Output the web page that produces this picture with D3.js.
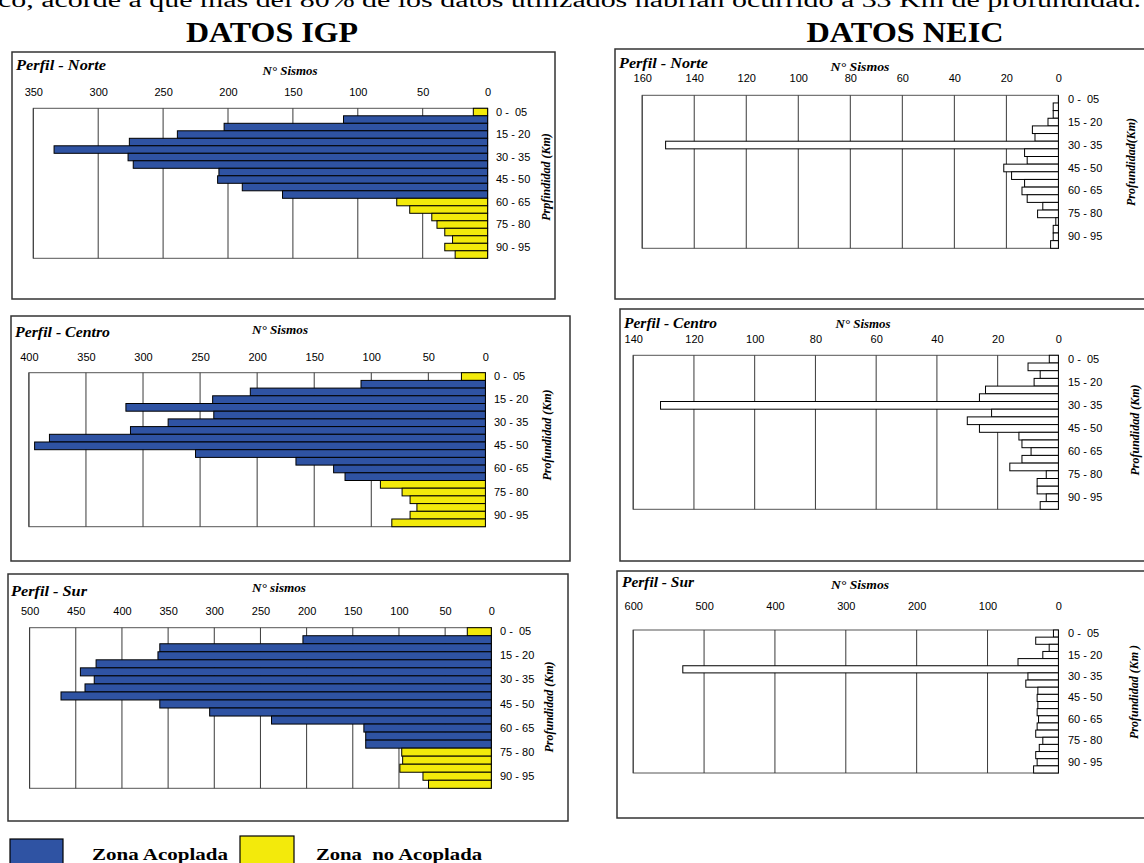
<!DOCTYPE html>
<html>
<head>
<meta charset="utf-8">
<script src="https://cdn.jsdelivr.net/npm/d3@7"></script>
<style>
  body { margin: 0; background: #fff; }
  svg { display: block; }
  .tick text { white-space: pre; }
</style>
</head>
<body>
<div id="chart"></div>
<script>
// depth bins (km), labels shown every third bin
const depthBins = ["0 -  05", "05 - 10", "10 - 15", "15 - 20", "20 - 25", "25 - 30", "30 - 35",
  "35 - 40", "40 - 45", "45 - 50", "50 - 55", "55 - 60", "60 - 65", "65 - 70", "70 - 75",
  "75 - 80", "80 - 85", "85 - 90", "90 - 95", "95 - 100"];
const depthTicks = ["0 -  05", "15 - 20", "30 - 35", "45 - 50", "60 - 65", "75 - 80", "90 - 95"];

// IGP counts + zone (A = acoplada, N = no acoplada)
const igpNorte  = [11, 111, 203, 239, 276, 334, 277, 273, 207, 208, 189, 158, 70, 60, 43, 39, 33, 27, 33, 25];
const igpNorteZona  = ["N","A","A","A","A","A","A","A","A","A","A","A","N","N","N","N","N","N","N","N"];
const igpCentro = [21, 109, 206, 239, 315, 238, 278, 311, 382, 395, 254, 166, 133, 123, 92, 73, 66, 60, 66, 82];
const igpCentroZona = ["N","A","A","A","A","A","A","A","A","A","A","A","A","A","N","N","N","N","N","N"];
const igpSur    = [26, 204, 359, 361, 428, 445, 430, 440, 466, 359, 305, 238, 138, 136, 136, 97, 96, 99, 74, 68];
const igpSurZona    = ["N","A","A","A","A","A","A","A","A","A","A","A","A","A","A","N","N","N","N","N"];

// NEIC counts
const neicNorte  = [0, 2, 2, 4, 10, 9, 151, 13, 12, 21, 18, 13, 14, 12, 6, 8, 1, 2, 2, 3];
const neicCentro = [3, 10, 6, 8, 24, 26, 131, 22, 30, 26, 13, 12, 9, 12, 16, 4, 7, 7, 4, 6];
const neicSur    = [7, 32, 13, 22, 57, 530, 43, 46, 29, 30, 29, 30, 28, 30, 32, 22, 27, 32, 30, 35];

// x tick labels
const ticksIgpNorte   = [350, 300, 250, 200, 150, 100, 50, 0];
const ticksIgpCentro  = [400, 350, 300, 250, 200, 150, 100, 50, 0];
const ticksIgpSur     = [500, 450, 400, 350, 300, 250, 200, 150, 100, 50, 0];
const ticksNeicNorte  = [160, 140, 120, 100, 80, 60, 40, 20, 0];
const ticksNeicCentro = [140, 120, 100, 80, 60, 40, 20, 0];
const ticksNeicSur    = [600, 500, 400, 300, 200, 100, 0];

const zoneColor = { A: "#2f53a3", N: "#f3ea0b" };

const W = 1144, H = 863;
const svg = d3.select("#chart").append("svg").attr("width", W).attr("height", H);

// clipped sentence from the page above the figure
svg.append("text")
  .attr("x", -2).attr("y", 7)
  .attr("textLength", 1143).attr("lengthAdjust", "spacingAndGlyphs")
  .style("font", "20px 'Liberation Serif'")
  .text("co, acorde a que más del 80% de los datos utilizados habrían ocurrido a 33 Km de profundidad.");

svg.append("text").attr("x", 272).attr("y", 42).attr("text-anchor", "middle")
  .attr("textLength", 172).attr("lengthAdjust", "spacingAndGlyphs")
  .style("font", "bold 30px 'Liberation Serif'").text("DATOS IGP");
svg.append("text").attr("x", 905).attr("y", 42).attr("text-anchor", "middle")
  .attr("textLength", 197).attr("lengthAdjust", "spacingAndGlyphs")
  .style("font", "bold 30px 'Liberation Serif'").text("DATOS NEIC");

const panels = [
  { values: igpNorte, zones: igpNorteZona, ticks: ticksIgpNorte,
    title: "Perfil - Norte", titleW: 90, xTitle: "N° Sismos", xTitleW: 55, yTitle: "Prpfindidad (Km)",
    frame: [12, 52, 555, 299], plot: [33.3, 108.3, 487.6, 258.3],
    titlePos: [16, 70], xTitlePos: [290, 75], tickY: 96, catX: 496, yTitlePos: [546, 177] },
  { values: igpCentro, zones: igpCentroZona, ticks: ticksIgpCentro,
    title: "Perfil - Centro", titleW: 95, xTitle: "N° Sismos", xTitleW: 56, yTitle: "Profundidad (Km)",
    frame: [11, 316, 570, 561], plot: [28.9, 372.7, 485.4, 526.7],
    titlePos: [15, 337], xTitlePos: [280, 334], tickY: 361, catX: 494, yTitlePos: [547, 435] },
  { values: igpSur, zones: igpSurZona, ticks: ticksIgpSur,
    title: "Perfil - Sur", titleW: 76, xTitle: "N° sismos", xTitleW: 54, yTitle: "Profundidad (Km)",
    frame: [8, 574, 568, 821], plot: [29.6, 627.7, 491.3, 788.3],
    titlePos: [11, 596], xTitlePos: [279, 592], tickY: 615, catX: 500, yTitlePos: [549, 707] },
  { values: neicNorte, zones: null, ticks: ticksNeicNorte,
    title: "Perfil - Norte", titleW: 89, xTitle: "N° Sismos", xTitleW: 59, yTitle: "Profundidad(Km)",
    frame: [615, 49, 1150, 299], plot: [642.2, 95.3, 1058.4, 248.3],
    titlePos: [619, 68], xTitlePos: [860, 71], tickY: 82, catX: 1068, yTitlePos: [1131, 162] },
  { values: neicCentro, zones: null, ticks: ticksNeicCentro,
    title: "Perfil - Centro", titleW: 93, xTitle: "N° Sismos", xTitleW: 55, yTitle: "Profundidad (Km)",
    frame: [620, 309, 1150, 561], plot: [633.2, 355.3, 1058.4, 509.3],
    titlePos: [624, 328], xTitlePos: [863, 328], tickY: 343, catX: 1068, yTitlePos: [1135, 430] },
  { values: neicSur, zones: null, ticks: ticksNeicSur,
    title: "Perfil - Sur", titleW: 72, xTitle: "N° Sismos", xTitleW: 58, yTitle: "Profundidad (Km )",
    frame: [617, 571, 1150, 818], plot: [633.2, 630, 1058.4, 773],
    titlePos: [622, 587], xTitlePos: [860, 589], tickY: 610, catX: 1068, yTitlePos: [1134, 692] }
];

panels.forEach(drawPanel);

function drawPanel(p) {
  const g = svg.append("g");
  const [fx0, fy0, fx1, fy1] = p.frame;
  const [px0, py0, px1, py1] = p.plot;

  g.append("rect")
    .attr("x", fx0).attr("y", fy0).attr("width", fx1 - fx0).attr("height", fy1 - fy0)
    .attr("fill", "#fff").attr("stroke", "#333").attr("stroke-width", 1.5);

  const x = d3.scaleLinear().domain([d3.max(p.ticks), 0]).range([px0, px1]);
  const y = d3.scaleBand().domain(depthBins).range([py0, py1]).padding(0);

  // plot border + vertical gridlines
  g.append("rect")
    .attr("x", px0).attr("y", py0).attr("width", px1 - px0).attr("height", py1 - py0)
    .attr("fill", "none").attr("stroke", "#555").attr("stroke-width", 1);
  g.selectAll("line.grid")
    .data(p.ticks)
    .enter().append("line")
    .attr("class", "grid")
    .attr("x1", d => x(d)).attr("x2", d => x(d))
    .attr("y1", py0).attr("y2", py1)
    .attr("stroke", d => d === 0 ? "#000" : "#3a3a3a").attr("stroke-width", 1);

  // bars
  const rows = depthBins.map((bin, i) => ({ bin, v: p.values[i], zone: p.zones ? p.zones[i] : null }))
    .filter(d => d.v > 0);
  g.selectAll("rect.bar")
    .data(rows)
    .enter().append("rect")
    .attr("class", "bar")
    .attr("x", d => x(d.v))
    .attr("y", d => y(d.bin))
    .attr("width", d => x(0) - x(d.v))
    .attr("height", y.bandwidth())
    .attr("fill", d => d.zone ? zoneColor[d.zone] : "#fff")
    .attr("stroke", "#000").attr("stroke-width", 1);

  // top value axis
  const xAxis = g.append("g")
    .attr("transform", `translate(0,${p.tickY})`)
    .call(d3.axisTop(x).tickValues(p.ticks).tickSize(0).tickPadding(0).tickFormat(d3.format("d")));
  xAxis.select(".domain").remove();
  xAxis.selectAll("text").style("font", "11px 'Liberation Sans'").attr("fill", "#000");

  // right depth axis
  const yAxis = g.append("g")
    .attr("transform", `translate(${p.catX},0)`)
    .call(d3.axisRight(y).tickValues(depthTicks).tickSize(0).tickPadding(0));
  yAxis.select(".domain").remove();
  yAxis.selectAll("text").style("font", "11px 'Liberation Sans'").attr("fill", "#000");

  g.append("text")
    .attr("x", p.titlePos[0]).attr("y", p.titlePos[1])
    .attr("textLength", p.titleW).attr("lengthAdjust", "spacingAndGlyphs")
    .style("font", "bold italic 14px 'Liberation Serif'")
    .text(p.title);

  g.append("text")
    .attr("x", p.xTitlePos[0]).attr("y", p.xTitlePos[1]).attr("text-anchor", "middle")
    .attr("textLength", p.xTitleW).attr("lengthAdjust", "spacingAndGlyphs")
    .style("font", "bold italic 12px 'Liberation Serif'")
    .text(p.xTitle);

  g.append("text")
    .attr("transform", `translate(${p.yTitlePos[0]},${p.yTitlePos[1]}) rotate(-90)`)
    .attr("text-anchor", "middle").attr("dy", "0.35em")
    .style("font", "bold italic 12px 'Liberation Serif'")
    .style("white-space", "pre")
    .text(p.yTitle);
}

// legend
const legendItems = [
  { zone: "A", label: "Zona Acoplada", box: [10, 839, 53], textX: 92, textW: 136 },
  { zone: "N", label: "Zona  no Acoplada", box: [240, 836, 54], textX: 316, textW: 166 }
];
const lg = svg.append("g");
legendItems.forEach(d => {
  lg.append("rect")
    .attr("x", d.box[0]).attr("y", d.box[1]).attr("width", d.box[2]).attr("height", 40)
    .attr("fill", zoneColor[d.zone]).attr("stroke", "#000").attr("stroke-width", 1.2);
  lg.append("text")
    .attr("x", d.textX).attr("y", 860)
    .attr("textLength", d.textW).attr("lengthAdjust", "spacingAndGlyphs")
    .style("font", "bold 17px 'Liberation Serif'")
    .style("white-space", "pre")
    .text(d.label);
});
</script>
</body>
</html>
